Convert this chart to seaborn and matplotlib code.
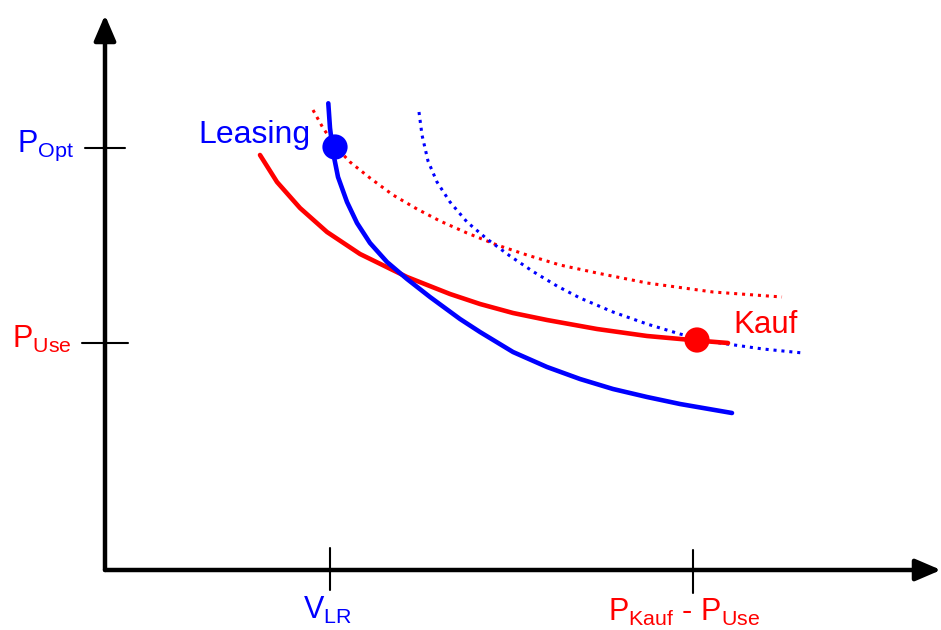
import numpy as np
import pandas as pd
import matplotlib
matplotlib.use('Agg')
import matplotlib.pyplot as plt
import seaborn as sns

# curves (x = quantity, y = price, arbitrary units)
blue_solid_x = [22.33, 22.5, 22.8, 23.3, 24.2, 25.2, 26.5, 28.2, 30.2, 32.5,
                35.5, 37.5, 40.8, 44.2, 47.5, 50.8, 54.2, 57.5, 62.7]
blue_solid_y = [46.67, 44.2, 41.8, 39.3, 36.8, 34.7, 32.7, 30.8, 29.1, 27.3,
                25.1, 23.8, 21.8, 20.3, 19.1, 18.1, 17.3, 16.6, 15.7]

red_solid_x = [15.5, 17.2, 19.5, 22.2, 25.5, 30.2, 34.5, 37.5, 40.8, 44.2,
               49.2, 54.2, 59.2, 62.3]
red_solid_y = [41.5, 38.8, 36.2, 33.8, 31.6, 29.3, 27.6, 26.6, 25.7, 25.0,
               24.1, 23.4, 22.95, 22.7]

red_dot_x = [20.8, 21.8, 23.2, 24.5, 26.5, 28.8, 31.2, 33.5, 36.2, 39.2,
             42.2, 45.5, 49.2, 54.2, 60.8, 67.7]
red_dot_y = [46.0, 44.2, 42.2, 40.8, 39.2, 37.5, 36.1, 34.9, 33.7, 32.5,
             31.5, 30.5, 29.7, 28.7, 27.8, 27.3]

blue_dot_x = [31.4, 31.7, 32.3, 33.2, 34.5, 36.2, 38.2, 40.5, 42.8, 45.2,
              47.5, 50.8, 54.2, 57.5, 60.8, 65.8, 69.8]
blue_dot_y = [45.8, 43.5, 40.9, 38.8, 36.8, 34.8, 33.1, 31.4, 29.85, 28.4,
              27.2, 25.8, 24.6, 23.6, 22.8, 22.1, 21.7]

# optimum points
opt_names = ['Leasing', 'Kauf']
opt_x = [23.0, 59.2]
opt_y = [42.3, 23.0]

# axis ticks
p_opt, p_use = 42.2, 22.7
v_lr, p_kauf_use = 22.5, 58.8

BLUE = '#0000FF'
RED = '#FF0000'

sns.set_style('white')
plt.rcParams['font.family'] = ['Liberation Sans', 'DejaVu Sans']
plt.rcParams['mathtext.fontset'] = 'custom'
plt.rcParams['mathtext.rm'] = 'Liberation Sans'
plt.rcParams['lines.solid_joinstyle'] = 'round'

fig = plt.figure(figsize=(9.41, 6.30), dpi=100)
ax = fig.add_axes([0, 0, 1, 1])

def curve(xs, ys, color, ls, lw):
    df = pd.DataFrame({'x': xs, 'y': ys})
    sns.lineplot(data=df, x='x', y='y', ax=ax, color=color, sort=False,
                 estimator=None, linewidth=lw, linestyle=ls)

curve(red_dot_x, red_dot_y, RED, (0, (1, 1.6)), 2.2)
curve(blue_dot_x, blue_dot_y, BLUE, (0, (1, 1.6)), 2.2)
curve(red_solid_x, red_solid_y, RED, '-', 3.3)
curve(blue_solid_x, blue_solid_y, BLUE, '-', 3.3)

pts = pd.DataFrame({'name': opt_names, 'x': opt_x, 'y': opt_y})
sns.scatterplot(data=pts, x='x', y='y', hue='name', palette=[BLUE, RED],
                s=330, edgecolor='none', legend=False, ax=ax, zorder=5)

# axes with arrow heads
arrow = dict(arrowstyle='-|>,head_length=0.7,head_width=0.3', lw=3.2,
             color='black', mutation_scale=22, shrinkA=0, shrinkB=0)
ax.annotate('', xy=(0, 55.5), xytext=(0, 0), arrowprops=arrow)
ax.annotate('', xy=(83.6, 0), xytext=(0, 0), arrowprops=arrow)

# tick marks
ax.plot([-2.0, 2.0], [p_opt, p_opt], color='black', lw=1.5)
ax.plot([-2.3, 2.3], [p_use, p_use], color='black', lw=1.5)
ax.plot([v_lr, v_lr], [2.2, -2.0], color='black', lw=1.5)
ax.plot([p_kauf_use, p_kauf_use], [2.0, -2.3], color='black', lw=1.5)

fs = 22
ax.text(-8.8, 41.8, r'P$_{\mathrm{Opt}}$', color=BLUE, fontsize=fs)
ax.text(-9.3, 22.2, r'P$_{\mathrm{Use}}$', color=RED, fontsize=fs)
ax.text(19.8, -4.9, r'V$_{\mathrm{LR}}$', color=BLUE, fontsize=fs)
ax.text(50.3, -5.1, r'P$_{\mathrm{Kauf}}$ - P$_{\mathrm{Use}}$', color=RED, fontsize=fs)
ax.text(9.3, 42.7, 'Leasing', color=BLUE, fontsize=23)
ax.text(62.8, 23.7, 'Kauf', color=RED, fontsize=22.5)

ax.set_xlim(-10.5, 83.6)
ax.set_ylim(-6, 57)
ax.axis('off')

fig.savefig('out.png', dpi=100)
